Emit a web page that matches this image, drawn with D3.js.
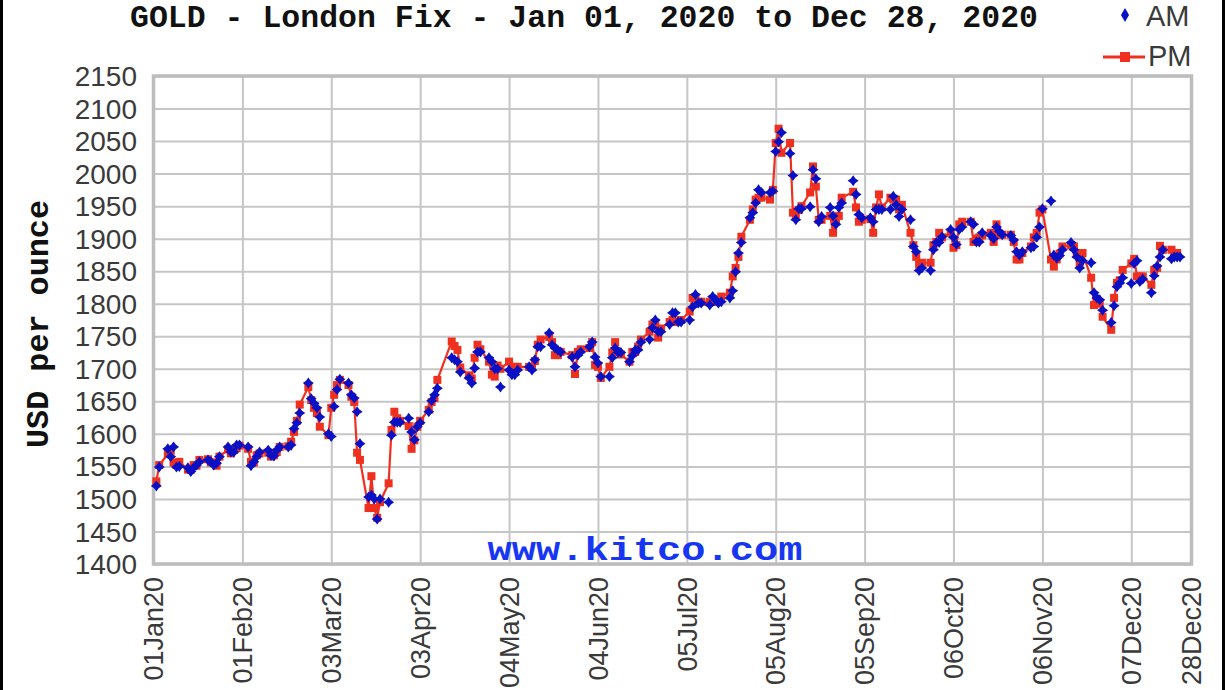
<!DOCTYPE html>
<html><head><meta charset="utf-8">
<script src="https://cdn.jsdelivr.net/npm/d3@7"></script>
<style>html,body{margin:0;padding:0;background:#fff;overflow:hidden}</style>
</head><body><svg id="c" width="1226" height="690"></svg>
<script>
// ---- data (trading days 2020) ----
const dates = [
"01-02","01-03","01-06","01-07","01-08","01-09","01-10","01-13","01-14","01-15","01-16","01-17","01-20","01-21","01-22","01-23","01-24","01-27","01-28","01-29","01-30","01-31",
"02-03","02-04","02-05","02-06","02-07","02-10","02-11","02-12","02-13","02-14","02-17","02-18","02-19","02-20","02-21","02-24","02-25","02-26","02-27","02-28",
"03-02","03-03","03-04","03-05","03-06","03-09","03-10","03-11","03-12","03-13","03-16","03-17","03-18","03-19","03-20","03-23","03-24","03-25","03-26","03-27","03-30","03-31",
"04-01","04-02","04-03","04-06","04-07","04-08","04-09","04-14","04-15","04-16","04-17","04-20","04-21","04-22","04-23","04-24","04-27","04-28","04-29","04-30",
"05-01","05-04","05-05","05-06","05-07","05-11","05-12","05-13","05-14","05-15","05-18","05-19","05-20","05-21","05-22","05-26","05-27","05-28","05-29",
"06-01","06-02","06-03","06-04","06-05","06-08","06-09","06-10","06-11","06-12","06-15","06-16","06-17","06-18","06-19","06-22","06-23","06-24","06-25","06-26","06-29","06-30",
"07-01","07-02","07-03","07-06","07-07","07-08","07-09","07-10","07-13","07-14","07-15","07-16","07-17","07-20","07-21","07-22","07-23","07-24","07-27","07-28","07-29","07-30","07-31",
"08-03","08-04","08-05","08-06","08-07","08-10","08-11","08-12","08-13","08-14","08-17","08-18","08-19","08-20","08-21","08-24","08-25","08-26","08-27","08-28",
"09-01","09-02","09-03","09-04","09-07","09-08","09-09","09-10","09-11","09-14","09-15","09-16","09-17","09-18","09-21","09-22","09-23","09-24","09-25","09-28","09-29","09-30",
"10-01","10-02","10-05","10-06","10-07","10-08","10-09","10-12","10-13","10-14","10-15","10-16","10-19","10-20","10-21","10-22","10-23","10-26","10-27","10-28","10-29","10-30",
"11-02","11-03","11-04","11-05","11-06","11-09","11-10","11-11","11-12","11-13","11-16","11-17","11-18","11-19","11-20","11-23","11-24","11-25","11-26","11-27","11-30",
"12-01","12-02","12-03","12-04","12-07","12-08","12-09","12-10","12-11","12-14","12-15","12-16","12-17","12-18","12-21","12-22","12-23","12-24"
];
const amValues = [
1520,1549,1577,1565,1580,1549,1550,1548,1542,1548,1552,1557,1560,1557,1552,1555,1565,1580,1572,1572,1583,1583,
1580,1551,1557,1565,1572,1575,1567,1566,1575,1580,1580,1583,1608,1617,1632,1678,1654,1647,1640,1626,
1600,1596,1642,1668,1684,1678,1660,1655,1634,1585,1503,1506,1500,1469,1500,1495,1598,1618,1618,1618,1624,1603,
1591,1611,1617,1634,1651,1660,1670,1717,1714,1711,1695,1686,1678,1701,1726,1726,1717,1711,1700,1700,
1672,1698,1691,1691,1698,1703,1698,1714,1734,1734,1755,1737,1732,1729,1726,1718,1703,1721,1726,
1734,1741,1718,1709,1688,1688,1717,1732,1725,1725,1711,1720,1729,1729,1741,1745,1763,1775,1757,1757,1768,1786,
1786,1772,1772,1775,1795,1814,1801,1801,1798,1811,1806,1801,1803,1809,1820,1849,1878,1894,1932,1940,1955,1975,1971,
1971,1973,2034,2049,2063,2031,1997,1929,1946,1946,1949,2006,1992,1926,1934,1948,1935,1922,1948,1955,
1989,1968,1937,1932,1932,1926,1945,1945,1945,1945,1965,1952,1934,1945,1929,1888,1880,1851,1855,1851,1883,1894,
1894,1903,1914,1902,1891,1914,1918,1926,1922,1895,1895,1909,1905,1900,1918,1911,1906,1905,1898,1880,1875,1880,
1886,1888,1902,1918,1946,1958,1875,1870,1874,1883,1894,1883,1872,1855,1866,1863,1817,1809,1806,1790,1771,
1797,1826,1832,1840,1831,1862,1866,1834,1838,1817,1843,1858,1872,1883,1869,1872,1872,1872
];
const pmValues = [
1527,1552,1569,1574,1556,1552,1557,1545,1545,1552,1551,1560,1561,1556,1556,1551,1565,1576,1570,1575,1578,1582,
1577,1557,1556,1567,1570,1571,1565,1567,1572,1580,1581,1588,1603,1620,1645,1672,1652,1640,1632,1611,
1598,1640,1660,1675,1683,1675,1657,1649,1571,1560,1486,1535,1486,1471,1495,1524,1606,1634,1624,1620,1612,1577,
1590,1611,1620,1637,1649,1655,1683,1742,1735,1729,1702,1690,1685,1717,1737,1730,1711,1691,1688,1705,
1700,1711,1703,1703,1703,1703,1703,1712,1737,1745,1749,1741,1721,1721,1726,1721,1692,1726,1730,
1732,1741,1706,1703,1686,1703,1725,1741,1726,1722,1711,1726,1726,1734,1745,1757,1768,1768,1748,1762,1772,1775,
1772,1772,1775,1788,1809,1809,1803,1803,1803,1806,1803,1803,1811,1817,1842,1855,1872,1903,1929,1945,1960,1963,1963,
1960,1975,2047,2069,2032,2047,1940,1937,1944,1950,1971,2011,1980,1929,1929,1935,1909,1929,1935,1963,
1972,1948,1926,1929,1930,1909,1948,1968,1948,1963,1960,1960,1945,1952,1909,1890,1872,1860,1863,1863,1890,1895,
1909,1902,1909,1886,1890,1922,1926,1926,1895,1900,1902,1905,1909,1895,1922,1906,1906,1906,1895,1868,1868,1878,
1888,1902,1909,1940,1945,1868,1857,1868,1877,1888,1890,1888,1876,1862,1878,1840,1798,1806,1800,1780,1760,
1809,1832,1836,1852,1862,1869,1842,1842,1842,1829,1852,1855,1889,1883,1883,1878,1878,null
];
const xTickDates = ["2020-01-01","2020-02-01","2020-03-03","2020-04-03","2020-05-04","2020-06-04","2020-07-05","2020-08-05","2020-09-05","2020-10-06","2020-11-06","2020-12-07","2020-12-28"];
const yTicks = [1400,1450,1500,1550,1600,1650,1700,1750,1800,1850,1900,1950,2000,2050,2100,2150];
const titleText = "GOLD - London Fix - Jan 01, 2020 to Dec 28, 2020";
const yTitle = "USD per ounce";
const seriesNames = ["AM","PM"];
const watermark = "www.kitco.com";

// ---- layout ----
const L = 153.5, R = 1191.5, T = 76, B = 564;
const RED = "#f0301e", BLUE = "#0a10c4";
const parse = d3.utcParse("%Y-%m-%d");
const svg = d3.select("#c");

const x = d3.scaleUtc().domain([parse("2020-01-01"), parse("2020-12-28")]).range([L, R]);
const y = d3.scaleLinear().domain([1400, 2150]).range([B, T]);

const rows = dates.map((d, i) => ({date: parse("2020-" + d), am: amValues[i], pm: pmValues[i]}));

// outer black frame (left/right)
svg.append("rect").attr("x", 1.5).attr("y", -10).attr("width", 1222).attr("height", 720)
  .attr("fill", "none").attr("stroke", "#000").attr("stroke-width", 3);

// gridlines via axes
const gx = svg.append("g").attr("transform", `translate(0,${B})`)
  .call(d3.axisBottom(x).tickValues(xTickDates.map(parse)).tickSize(-(B - T)).tickFormat(""));
gx.select(".domain").remove();
gx.selectAll("line").attr("stroke", "#c6c6c6").attr("stroke-width", 2);

const gy = svg.append("g").attr("transform", `translate(${L},0)`)
  .call(d3.axisLeft(y).tickValues(yTicks).tickSize(-(R - L)).tickFormat(""));
gy.select(".domain").remove();
gy.selectAll("line").attr("stroke", "#c6c6c6").attr("stroke-width", 2);

// plot frame
svg.append("rect").attr("x", L).attr("y", T).attr("width", R - L).attr("height", B - T)
  .attr("fill", "none").attr("stroke", "#bdbdbd").attr("stroke-width", 3.5);

// y tick labels
svg.append("g").selectAll("text").data(yTicks).join("text")
  .attr("x", 137).attr("y", d => y(d)).attr("dy", "0.36em")
  .attr("text-anchor", "end")
  .style("font-family", "Liberation Sans, Arial, sans-serif").style("font-size", "28px")
  .attr("fill", "#3a3a3a").text(d => d);

// x tick labels
const fmt = d3.utcFormat("%d%b%y");
svg.append("g").selectAll("text").data(xTickDates.map(parse)).join("text")
  .attr("transform", d => `translate(${x(d)},577) rotate(-90)`)
  .attr("dy", "0.36em").attr("text-anchor", "end")
  .style("font-family", "Liberation Sans, Arial, sans-serif").style("font-size", "27px")
  .attr("fill", "#3a3a3a").text(d => fmt(d));

// watermark
svg.append("text").attr("x", 645).attr("y", 560).attr("text-anchor", "middle")
  .attr("textLength", 315).attr("lengthAdjust", "spacingAndGlyphs")
  .style("font-family", "Liberation Mono, DejaVu Sans Mono, monospace").style("font-weight", "bold")
  .style("font-size", "33px").attr("fill", "#1636f2").text(watermark);

// title
svg.append("text").attr("x", 584).attr("y", 27).attr("text-anchor", "middle")
  .attr("textLength", 908).attr("lengthAdjust", "spacingAndGlyphs")
  .style("font-family", "Liberation Mono, DejaVu Sans Mono, monospace").style("font-weight", "bold")
  .style("font-size", "31px").attr("fill", "#111").text(titleText);

// y title
svg.append("text").attr("transform", "translate(48,324) rotate(-90)").attr("text-anchor", "middle")
  .attr("textLength", 248).attr("lengthAdjust", "spacingAndGlyphs")
  .style("font-family", "Liberation Mono, DejaVu Sans Mono, monospace").style("font-weight", "bold")
  .style("font-size", "31px").attr("fill", "#111").text(yTitle);

// PM line
const pmRows = rows.filter(r => r.pm != null);
svg.append("path").datum(pmRows)
  .attr("fill", "none").attr("stroke", RED).attr("stroke-width", 2.2)
  .attr("d", d3.line().x(d => x(d.date)).y(d => y(d.pm)));

// PM squares
const s = 8;
svg.append("g").selectAll("rect").data(pmRows).join("rect")
  .attr("x", d => x(d.date) - s / 2).attr("y", d => y(d.pm) - s / 2)
  .attr("width", s).attr("height", s).attr("fill", RED);

// AM stars
const star = (r, w) => `M0,${-r}L${w},${-w}L${r},0L${w},${w}L0,${r}L${-w},${w}L${-r},0L${-w},${-w}Z`;
svg.append("g").selectAll("path").data(rows).join("path")
  .attr("transform", d => `translate(${x(d.date)},${y(d.am)})`)
  .attr("d", star(5.5, 2.3)).attr("fill", BLUE);

// legend
svg.append("path").attr("transform", "translate(1125,15)").attr("d", "M0,-7L4,0L0,7L-4,0Z").attr("fill", BLUE);
svg.append("line").attr("x1", 1103).attr("x2", 1145).attr("y1", 57).attr("y2", 57).attr("stroke", RED).attr("stroke-width", 3);
svg.append("rect").attr("x", 1120).attr("y", 52).attr("width", 10).attr("height", 10).attr("fill", RED);
svg.append("text").attr("x", 1146).attr("y", 26)
  .style("font-family", "Liberation Sans, Arial, sans-serif").style("font-size", "29px")
  .attr("fill", "#3a3a3a").text(seriesNames[0]);
svg.append("text").attr("x", 1148).attr("y", 66)
  .style("font-family", "Liberation Sans, Arial, sans-serif").style("font-size", "29px")
  .attr("fill", "#3a3a3a").text(seriesNames[1]);
</script></body></html>
